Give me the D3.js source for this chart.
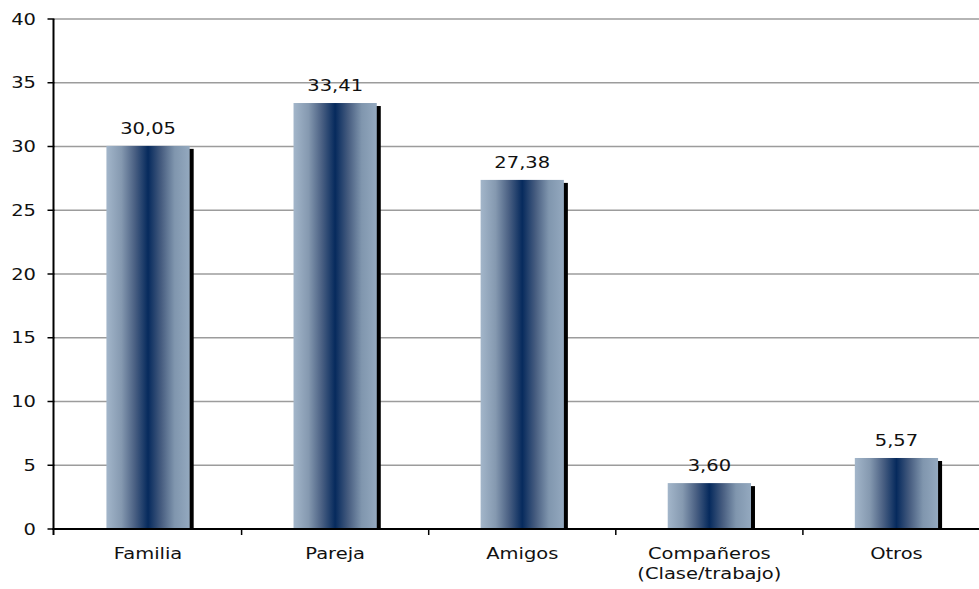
<!DOCTYPE html>
<html><head><meta charset="utf-8">
<script src="https://cdn.jsdelivr.net/npm/d3@7"></script>
<style>html,body{margin:0;padding:0;background:#fff;}svg{display:block;}</style>
</head><body>
<svg id="chart" width="979" height="589"></svg>
<script>
const categories = ["Familia", "Pareja", "Amigos", "Compañeros\n(Clase/trabajo)", "Otros"];
const values = [30.05, 33.41, 27.38, 3.60, 5.57];
const valueLabels = ["30,05", "33,41", "27,38", "3,60", "5,57"];
const yTicks = [0, 5, 10, 15, 20, 25, 30, 35, 40];

const svg = d3.select("#chart");
const W = 979, H = 589;
const x0 = 54.5, x1 = 990, yTop = 19, yBot = 529;
const font = "'DejaVu Sans', Verdana, sans-serif";
const sx = 1.3;

const x = d3.scaleBand().domain(d3.range(categories.length)).range([x0, x1]).padding(0);
const y = d3.scaleLinear().domain([0, 40]).range([yBot, yTop]);

const defs = svg.append("defs");
const grad = defs.append("linearGradient").attr("id", "barGrad").attr("x1", "0%").attr("x2", "100%").attr("y1", "0%").attr("y2", "0%");
[["0%", "#a3b6ca"], ["18%", "#8599b0"], ["34%", "#4a6083"], ["50%", "#062a5d"], ["66%", "#475d80"], ["82%", "#8096ae"], ["100%", "#94a9bf"]]
  .forEach(([o, c]) => grad.append("stop").attr("offset", o).attr("stop-color", c));

// gridlines
svg.append("g").selectAll("line").data(yTicks.filter(d => d > 0)).join("line")
  .attr("x1", x0).attr("x2", W).attr("y1", d => y(d)).attr("y2", d => y(d))
  .attr("stroke", "#9c9c9c").attr("stroke-width", 1.5);

// bars
const bw = x.bandwidth() * 0.445;
const bars = svg.append("g");
const bx = i => x(i) + x.bandwidth() / 2 - bw / 2;
bars.selectAll("rect.shadow").data(values).join("rect").attr("class", "shadow")
  .attr("x", (d, i) => bx(i) + 4).attr("y", d => y(d) + 3)
  .attr("width", bw).attr("height", d => yBot - y(d) - 3).attr("fill", "#000");
bars.selectAll("rect.bar").data(values).join("rect").attr("class", "bar")
  .attr("x", (d, i) => bx(i)).attr("y", d => y(d))
  .attr("width", bw).attr("height", d => yBot - y(d)).attr("fill", "url(#barGrad)");

// value labels
svg.append("g").selectAll("text").data(values).join("text")
  .attr("transform", (d, i) => `translate(${x(i) + x.bandwidth() / 2},${y(d) - 12}) scale(${sx},1)`)
  .attr("text-anchor", "middle").attr("font-family", font).attr("font-size", 15).attr("fill", "#111")
  .text((d, i) => valueLabels[i]);

// y axis
const yAxis = svg.append("g");
yAxis.append("line").attr("x1", x0 - 1).attr("x2", x0 - 1).attr("y1", yTop).attr("y2", yBot + 1)
  .attr("stroke", "#000").attr("stroke-width", 2);
yAxis.selectAll("line.tick").data(yTicks).join("line").attr("class", "tick")
  .attr("x1", x0 - 7).attr("x2", x0).attr("y1", d => y(d)).attr("y2", d => y(d))
  .attr("stroke", "#000").attr("stroke-width", 1.5);
yAxis.selectAll("text").data(yTicks).join("text")
  .attr("transform", d => `translate(36,${y(d) + 5.5}) scale(${sx},1)`)
  .attr("text-anchor", "end").attr("font-family", font).attr("font-size", 15).attr("fill", "#111")
  .text(d => d);

// x axis
const xAxis = svg.append("g");
xAxis.append("line").attr("x1", x0 - 2).attr("x2", W).attr("y1", yBot).attr("y2", yBot)
  .attr("stroke", "#000").attr("stroke-width", 2);
xAxis.selectAll("line.tick").data(d3.range(1, categories.length)).join("line").attr("class", "tick")
  .attr("x1", i => x(i)).attr("x2", i => x(i)).attr("y1", yBot).attr("y2", yBot + 6)
  .attr("stroke", "#000").attr("stroke-width", 1.5);
xAxis.append("line").attr("x1", x0 - 1).attr("x2", x0 - 1).attr("y1", yBot).attr("y2", yBot + 6)
  .attr("stroke", "#000").attr("stroke-width", 2);
const xl = xAxis.selectAll("text").data(categories).join("text")
  .attr("transform", (d, i) => `translate(${x(i) + x.bandwidth() / 2},559) scale(${sx},1)`)
  .attr("text-anchor", "middle").attr("font-family", font).attr("font-size", 15).attr("fill", "#111");
xl.each(function(d) {
  const lines = d.split("\n");
  d3.select(this).selectAll("tspan").data(lines).join("tspan")
    .attr("x", 0).attr("dy", (l, j) => j === 0 ? 0 : 20).text(l => l);
});
</script>
</body></html>
